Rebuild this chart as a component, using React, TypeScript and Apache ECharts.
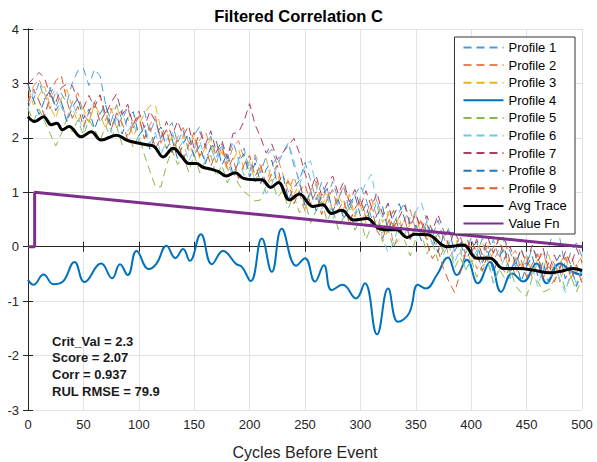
import React, { useEffect, useRef } from "react";
import * as echarts from "echarts";

const CYCLES = Array.from({ length: 101 }, (_, i) => i * 5);

const PROFILE_1 = [
  2.98, 2.70, 3.03, 2.70, 2.93, 2.55, 2.82, 2.64, 3.01, 3.23,
  3.28, 2.96, 3.26, 3.14, 2.62, 2.30, 2.61, 2.32, 2.57, 2.18,
  2.39, 2.49, 2.09, 2.35, 1.95, 2.15, 2.28, 1.91, 2.14, 1.77,
  2.05, 2.21, 1.82, 2.03, 1.64, 1.90, 1.62, 1.93, 1.60, 1.81,
  1.38, 1.64, 1.36, 1.67, 1.79, 1.50, 1.73, 1.91, 1.49, 1.22,
  1.55, 1.23, 0.86, 1.19, 0.87, 1.20, 0.87, 1.10, 0.67, 0.95,
  1.12, 0.88, 0.53, 0.84, 0.54, 0.80, 0.42, 0.64, 0.81, 0.43,
  0.65, 0.21, 0.47, 0.18, 0.49, 0.15, 0.35, -0.09, 0.21, -0.13,
  0.17, -0.16, 0.15, -0.18, 0.13, -0.20, 0.13, -0.09, -0.37, -0.04,
  -0.36, -0.02, -0.18, -0.48, 0.01, 0.30, 0.15, -0.39, -0.09, 0.07,
  -0.18,
];
const PROFILE_2 = [
  2.68, 2.95, 3.08, 2.80, 2.53, 2.85, 2.67, 2.34, 2.66, 2.83,
  2.45, 2.28, 2.66, 2.79, 2.32, 2.55, 2.16, 2.42, 2.57, 2.18,
  2.39, 1.99, 2.24, 2.40, 1.90, 2.15, 1.73, 2.01, 2.19, 1.92,
  1.65, 1.96, 2.12, 1.83, 1.54, 1.85, 1.52, 1.83, 1.95, 1.61,
  1.38, 1.69, 1.46, 1.17, 1.49, 1.65, 1.33, 1.01, 1.29, 0.97,
  0.65, 1.03, 1.21, 0.84, 1.07, 0.65, 0.92, 1.10, 0.82, 0.55,
  0.87, 0.58, 0.88, 0.54, 0.24, 0.60, 0.02, 0.14, 0.51, 0.68,
  0.30, 0.51, 0.12, 0.33, -0.06, 0.20, -0.20, -0.04, 0.21, -0.18,
  0.02, -0.41, -0.25, 0.02, -0.27, -0.05, -0.47, -0.19, -0.07, -0.44,
  -0.21, -0.57, -0.28, -0.08, -0.49, -0.25, -0.65, -0.34, -0.14, -0.48,
  -0.28,
];
const PROFILE_3 = [
  2.93, 2.60, 2.78, 2.95, 2.58, 2.35, 2.72, 2.89, 2.56, 2.28,
  2.55, 2.28, 2.61, 2.44, 2.17, 2.50, 2.61, 2.22, 2.37, 2.03,
  2.24, 2.44, 2.59, 2.60, 2.15, 1.80, 2.03, 1.71, 2.04, 1.77,
  2.05, 1.61, 1.82, 1.98, 1.54, 1.75, 1.37, 1.58, 1.80, 1.41,
  1.58, 1.19, 1.46, 1.62, 1.19, 1.35, 0.98, 1.26, 0.94, 1.17,
  0.70, 0.98, 1.16, 0.74, 0.97, 0.65, 0.97, 0.70, 0.97, 0.55,
  0.77, 0.43, 0.73, 0.84, 0.44, 0.65, 0.32, 0.54, 0.16, 0.43,
  0.60, 0.21, 0.42, 0.03, 0.29, -0.10, 0.15, 0.26, -0.14, 0.07,
  -0.33, -0.06, 0.10, -0.28, -0.12, 0.15, -0.12, -0.49, -0.17, -0.34,
  -0.16, -0.52, -0.23, -0.38, -0.14, -0.55, -0.30, -0.14, -0.59, -0.33,
  -0.18,
];
const PROFILE_4: [number, number][] = [
  [0, -0.61], [5, -0.70], [14, -0.51], [23, -0.69], [31, -0.65], [42, -0.28],
  [51, -0.65], [66, -0.31], [76, -0.58], [83, -0.32], [90, -0.52], [98, -0.08],
  [109, -0.41], [116, -0.31], [125, 0.02], [133, -0.21], [140, -0.04], [146, -0.26],
  [156, 0.23], [166, -0.32], [176, -0.08], [188, -0.32], [193, -0.37], [201, -0.63],
  [211, 0.15], [220, -0.46], [229, 0.33], [242, -0.35], [250, -0.21], [259, -0.64],
  [267, -0.34], [274, -0.80], [284, -0.70], [296, -0.95], [304, -0.67], [315, -1.61],
  [325, -0.77], [334, -1.38], [344, -1.22], [352, -0.70], [359, -0.77], [369, -0.52],
  [379, -0.20], [387, -0.52], [396, -0.24], [406, -0.67], [417, -0.28], [427, -0.83],
  [437, -0.49], [447, -0.64], [459, -0.31], [468, -0.67], [480, -0.31], [491, -0.46],
  [500, -0.52],
];
const PROFILE_5 = [
  2.53, 2.30, 2.53, 2.30, 2.08, 1.85, 2.07, 2.34, 2.11, 2.33,
  2.05, 2.33, 2.16, 1.94, 2.22, 2.00, 2.21, 1.87, 2.07, 1.83,
  2.04, 1.69, 1.39, 1.10, 1.10, 1.50, 1.78, 1.51, 1.69, 1.37,
  1.70, 1.36, 1.57, 1.68, 1.29, 1.50, 1.17, 1.38, 1.15, 1.01,
  0.93, 0.84, 0.86, 1.12, 1.24, 0.90, 1.03, 0.71, 0.94, 0.62,
  0.85, 0.43, 0.66, 0.84, 0.47, 0.70, 0.32, 0.55, 0.72, 0.30,
  0.52, 0.13, 0.38, 0.49, 0.09, 0.30, -0.03, 0.29, 0.11, -0.17,
  0.15, 0.26, -0.13, 0.08, -0.26, -0.05, 0.05, -0.39, -0.19, -0.43,
  -0.23, -0.56, -0.35, -0.28, -0.67, -0.40, -0.57, -0.39, -0.72, -0.84,
  -0.91, -0.57, -0.63, -0.83, -0.79, -0.60, -0.45, -0.79, -0.54, -0.83,
  -0.58,
];
const PROFILE_6 = [
  2.53, 2.85, 2.68, 2.40, 2.73, 2.90, 2.57, 2.34, 2.66, 2.38,
  2.15, 2.48, 2.66, 2.29, 2.47, 2.10, 2.36, 2.52, 2.12, 2.28,
  1.94, 2.24, 1.89, 2.10, 1.70, 1.95, 2.13, 1.76, 1.94, 1.57,
  1.80, 1.96, 1.57, 1.83, 1.54, 1.85, 1.57, 1.28, 1.60, 1.31,
  1.58, 1.19, 1.41, 0.97, 1.14, 1.50, 1.73, 1.91, 1.59, 1.12,
  1.50, 1.58, 1.11, 0.69, 0.92, 0.50, 0.82, 0.55, 0.87, 0.60,
  0.92, 1.18, 1.33, 0.79, 0.14, -0.10, 0.07, 0.44, 0.21, 0.53,
  0.65, 0.81, 0.47, 0.03, 0.24, -0.15, 0.10, -0.29, -0.04, -0.43,
  -0.28, -0.06, -0.45, -0.18, -0.67, -0.45, -0.22, -0.59, -0.17, -0.39,
  -0.16, -0.37, -0.73, -0.38, -0.69, -0.30, -0.60, -0.84, -0.44, -0.68,
  -0.38,
];
const PROFILE_7 = [
  2.98, 3.10, 3.20, 3.10, 2.78, 2.65, 2.92, 2.99, 2.96, 2.68,
  2.55, 2.78, 2.56, 2.79, 2.42, 2.65, 2.81, 2.42, 2.62, 2.23,
  2.49, 2.19, 2.49, 2.30, 2.00, 2.30, 2.03, 2.31, 2.04, 2.22,
  1.80, 2.11, 1.87, 2.13, 1.74, 1.95, 1.62, 2.08, 2.10, 2.31,
  2.63, 2.24, 2.01, 1.72, 1.89, 1.60, 1.73, 1.86, 1.99, 1.72,
  1.35, 1.03, 1.31, 0.94, 1.17, 1.30, 0.97, 1.20, 0.82, 1.05,
  0.72, 1.03, 0.73, 0.99, 0.59, 0.80, 0.37, 0.54, 0.76, 0.38,
  0.60, 0.31, 0.57, 0.28, 0.59, 0.30, 0.00, 0.31, 0.01, 0.27,
  -0.13, 0.14, -0.15, 0.17, -0.12, 0.15, -0.22, 0.01, -0.32, -0.04,
  -0.31, 0.03, -0.28, -0.03, -0.44, -0.15, -0.40, -0.09, -0.34, -0.03,
  -0.28,
];
const PROFILE_8 = [
  2.98, 2.70, 2.43, 2.70, 2.88, 2.50, 2.67, 2.29, 2.56, 2.73,
  2.35, 2.53, 2.16, 2.44, 2.62, 2.20, 2.41, 2.07, 2.37, 2.48,
  2.04, 2.19, 1.79, 2.05, 2.20, 1.80, 1.98, 1.61, 1.89, 2.07,
  1.65, 1.86, 1.52, 1.83, 1.94, 1.50, 1.72, 1.33, 1.55, 1.71,
  1.28, 1.54, 1.16, 1.42, 1.59, 1.15, 1.33, 0.86, 1.09, 1.22,
  0.75, 1.03, 0.66, 0.94, 1.07, 0.65, 0.87, 0.50, 0.77, 0.95,
  0.57, 0.78, 0.38, 0.59, 0.74, 0.30, 0.57, 0.79, 0.51, 0.13,
  0.40, 0.11, 0.42, 0.18, -0.11, 0.20, 0.30, -0.09, 0.11, -0.28,
  -0.03, 0.09, -0.30, -0.08, -0.47, -0.20, -0.02, -0.49, -0.22, -0.64,
  -0.36, -0.17, -0.53, -0.28, -0.64, -0.35, -0.15, -0.59, -0.34, -0.73,
  -0.43,
];
const PROFILE_9 = [
  2.63, 2.90, 2.68, 2.40, 2.78, 3.05, 3.15, 2.69, 2.36, 2.58,
  2.20, 2.48, 2.66, 2.29, 2.47, 2.15, 2.46, 2.27, 1.97, 2.28,
  2.39, 1.99, 2.19, 1.80, 2.00, 2.15, 1.73, 1.96, 1.59, 1.87,
  2.10, 1.66, 1.87, 1.48, 1.74, 1.85, 1.42, 1.63, 1.25, 1.51,
  1.68, 1.29, 1.51, 1.12, 1.34, 1.50, 1.03, 1.21, 0.79, 1.02,
  1.15, 0.78, 1.01, 0.59, 0.87, 1.05, 0.67, 0.85, 0.42, 0.70,
  0.87, 0.53, 0.73, 0.29, 0.14, 0.45, 0.67, 0.29, 0.51, 0.13,
  0.35, 0.46, 0.07, -0.22, -0.06, -0.40, -0.65, -0.84, -0.49, -0.08,
  0.12, -0.11, -0.45, -0.13, -0.02, 0.15, 0.18, -0.29, -0.52, -0.24,
  -0.56, -0.32, -0.13, -0.58, -0.29, -0.65, -0.40, -0.19, -0.59, -0.33,
  -0.68,
];
const AVG_TRACE: [number, number][] = [
  [0, 2.39], [6, 2.30], [14, 2.39], [21, 2.24], [26, 2.27], [31, 2.15], [37, 2.21],
  [48, 2.02], [57, 2.11], [66, 1.96], [80, 2.05], [89, 1.96], [98, 1.91], [108, 1.87],
  [114, 1.84], [122, 1.65], [131, 1.81], [139, 1.65], [145, 1.53], [152, 1.53],
  [158, 1.46], [166, 1.42], [172, 1.38], [179, 1.30], [187, 1.36], [194, 1.26],
  [205, 1.23], [211, 1.23], [219, 1.09], [226, 1.18], [236, 0.86], [245, 0.97],
  [257, 0.74], [266, 0.77], [274, 0.61], [283, 0.67], [294, 0.49], [306, 0.52],
  [316, 0.34], [324, 0.31], [333, 0.31], [342, 0.17], [349, 0.23], [361, 0.22],
  [378, 0.0], [393, 0.03], [405, -0.21], [417, -0.21], [429, -0.40], [444, -0.40],
  [456, -0.43], [471, -0.48], [483, -0.44], [492, -0.40], [500, -0.44],
];
const VALUE_FN: [number, number][] = [[0, 0], [6, 0], [6, 1], [500, 0]];

const STATS = ["Crit_Val = 2.3", "Score = 2.07", "Corr = 0.937", "RUL RMSE = 79.9"];

const FONT = "'Liberation Sans', Arial, Helvetica, sans-serif";
const AXIS_COLOR = "#262626";

const pair = (ys: number[]) => CYCLES.map((x, i) => [x, ys[i]]);

const DASHED = [
  { name: "Profile 1", data: PROFILE_1, color: "#4f9bd8" },
  { name: "Profile 2", data: PROFILE_2, color: "#e8825a" },
  { name: "Profile 3", data: PROFILE_3, color: "#EDB120" },
];
const DASHED_B = [
  { name: "Profile 5", data: PROFILE_5, color: "#86b94a" },
  { name: "Profile 6", data: PROFILE_6, color: "#6cc6ee" },
  { name: "Profile 7", data: PROFILE_7, color: "#b0405a" },
  { name: "Profile 8", data: PROFILE_8, color: "#1f78c1" },
  { name: "Profile 9", data: PROFILE_9, color: "#dd5a24" },
];

function dashedSeries(p: { name: string; data: number[]; color: string }) {
  return {
    name: p.name,
    type: "line",
    data: pair(p.data),
    symbol: "none",
    lineStyle: { color: p.color, width: 1, type: [8, 5] },
    itemStyle: { color: p.color },
  };
}

export default function App() {
  const ref = useRef<HTMLDivElement>(null);
  useEffect(() => {
    if (!ref.current) return;
    const chart = echarts.init(ref.current, undefined, { renderer: "svg" });
    const axisCommon = {
      type: "value",
      axisLine: { show: true, lineStyle: { color: AXIS_COLOR, width: 1 } },
      axisTick: { show: true, inside: true, length: 5, lineStyle: { color: AXIS_COLOR } },
    };
    chart.setOption({
      animation: false,
      backgroundColor: "#ffffff",
      title: {
        text: "Filtered Correlation C",
        left: "center",
        top: 2,
        padding: [5, 0, 5, 18],
        textStyle: { fontFamily: FONT, fontSize: 16.5, fontWeight: "bold", color: "#000" },
      },
      grid: { left: 28, right: 15, top: 29, bottom: 52, containLabel: false, outerBoundsMode: "none" },
      legend: {
        orient: "vertical",
        right: 22,
        top: 37,
        padding: [4, 8, 4, 8],
        itemWidth: 40,
        itemHeight: 12,
        itemGap: 4.6,
        backgroundColor: "#ffffff",
        borderColor: "#333333",
        borderWidth: 1,
        borderRadius: 0,
        itemStyle: { opacity: 0 },
        textStyle: { fontFamily: FONT, fontSize: 13, color: "#000" },
      },
      xAxis: [
        {
          ...axisCommon,
          position: "bottom",
          min: 0,
          max: 500,
          interval: 50,
          name: "Cycles Before Event",
          nameLocation: "middle",
          nameGap: 34,
          nameTextStyle: { fontFamily: FONT, fontSize: 16, color: AXIS_COLOR },
          axisLabel: { fontFamily: FONT, fontSize: 13, color: AXIS_COLOR, margin: 8 },
          splitLine: { show: true, lineStyle: { color: "#e2e2e2", width: 1 } },
        },
        {
          ...axisCommon,
          position: "top",
          min: 0,
          max: 500,
          interval: 50,
          axisLabel: { show: false },
          splitLine: { show: false },
        },
      ],
      yAxis: [
        {
          ...axisCommon,
          position: "left",
          min: -3,
          max: 4,
          interval: 1,
          axisLabel: { fontFamily: FONT, fontSize: 13, color: AXIS_COLOR, margin: 9 },
          splitLine: { show: true, lineStyle: { color: "#e2e2e2", width: 1 } },
        },
        {
          ...axisCommon,
          position: "right",
          min: -3,
          max: 4,
          interval: 1,
          axisLabel: { show: false },
          splitLine: { show: false },
        },
      ],
      series: [
        ...DASHED.map(dashedSeries),
        {
          name: "Profile 4",
          type: "line",
          data: PROFILE_4,
          symbol: "none",
          smooth: 0.45,
          lineStyle: { color: "#0072BD", width: 2 },
          itemStyle: { color: "#0072BD" },
        },
        ...DASHED_B.map(dashedSeries),
        {
          name: "Avg Trace",
          type: "line",
          data: AVG_TRACE,
          symbol: "none",
          smooth: 0.4,
          lineStyle: { color: "#000000", width: 3 },
          itemStyle: { color: "#000000" },
        },
        {
          name: "Value Fn",
          type: "line",
          data: VALUE_FN,
          symbol: "none",
          lineStyle: { color: "#7E2F8E", width: 3 },
          itemStyle: { color: "#7E2F8E" },
        },
      ],
      graphic: STATS.map((t, i) => ({
        type: "text",
        x: 52,
        y: 341 + i * 16.7,
        style: {
          text: t,
          fontFamily: FONT,
          fontSize: 13,
          fontWeight: "bold",
          fill: "#1a1a1a",
          verticalAlign: "middle",
        },
        z: 100,
      })),
    });
    return () => chart.dispose();
  }, []);
  return <div ref={ref} style={{ width: 597, height: 462, position: "absolute", left: 0, top: 0 }} />;
}
